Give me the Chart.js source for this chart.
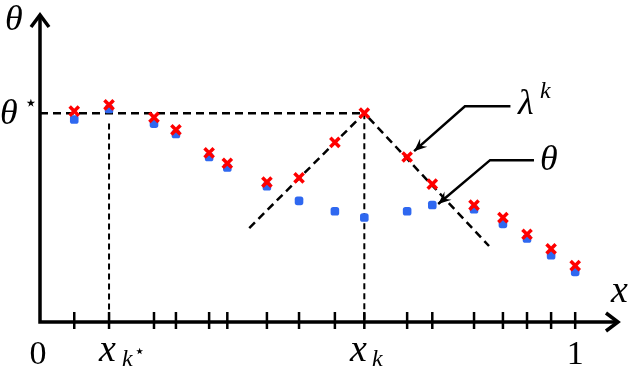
<!DOCTYPE html>
<html>
<head>
<meta charset="utf-8">
<script src="https://cdn.jsdelivr.net/npm/chart.js@4"></script>
<style>
  body { margin: 0; background: #fff; }
  canvas { display: block; }
</style>
</head>
<body>
<canvas id="plot" width="640" height="368"></canvas>
<script>
// sample positions on [0,1]
var xs = [0.064, 0.129, 0.213, 0.254, 0.316, 0.350, 0.424, 0.484, 0.551,
          0.606, 0.686, 0.733, 0.811, 0.865, 0.910, 0.955, 1.0];
// red crosses (lambda^k)
var lambdaVals = [1.01, 1.04, 0.98, 0.92, 0.81, 0.76, 0.67, 0.69, 0.86,
                  1.00, 0.79, 0.66, 0.56, 0.50, 0.42, 0.35, 0.27];
// blue dots (theta)
var thetaVals = [0.97, 1.02, 0.95, 0.90, 0.79, 0.74, 0.65, 0.58, 0.53,
                 0.50, 0.53, 0.56, 0.54, 0.47, 0.40, 0.32, 0.24];
var thetaStar = 1.0;
var kStar = 1, k = 9;
// the two dashed slopes through x_k
var vLeft = [0.391, 0.450], vRight = [0.839, 0.364];

var red = '#ff0000', blue = '#2f68f0';
var serif = '"Times New Roman", Times, "Liberation Serif", "Noto Serif", "DejaVu Serif", serif';

function pts(a, b) { return a.map(function (x, i) { return {x: x, y: b[i]}; }); }

var dashStyle = {type: 'line', borderColor: '#000', borderWidth: 2.5, borderDash: [8, 5],
                 pointRadius: 0, fill: false, tension: 0, order: 5};

var axesPlugin = {
  id: 'axesPlugin',
  afterDraw: function (c) {
    var ctx = c.ctx, sx = c.scales.x, sy = c.scales.y;
    var X = function (v) { return sx.getPixelForValue(v); };
    var Y = function (v) { return sy.getPixelForValue(v); };
    var x0 = X(0), y0 = Y(0), top = c.chartArea.top, right = c.chartArea.right;
    ctx.save();
    ctx.strokeStyle = '#000';
    ctx.fillStyle = '#000';
    ctx.lineCap = 'butt';
    // axes
    ctx.lineWidth = 3.5;
    ctx.beginPath();
    ctx.moveTo(x0, y0); ctx.lineTo(right - 2, y0);
    ctx.moveTo(x0, y0 + 1.7); ctx.lineTo(x0, top + 2);
    ctx.stroke();
    ctx.lineJoin = 'miter';
    ctx.beginPath();
    ctx.moveTo(right - 12, y0 - 9); ctx.lineTo(right, y0); ctx.lineTo(right - 12, y0 + 9);
    ctx.moveTo(x0 - 9, top + 12); ctx.lineTo(x0, top); ctx.lineTo(x0 + 9, top + 12);
    ctx.stroke();
    // ticks
    ctx.lineWidth = 2.5;
    ctx.beginPath();
    xs.forEach(function (v) { ctx.moveTo(X(v), y0 - 10); ctx.lineTo(X(v), y0 + 7); });
    ctx.stroke();
    // pointer arrows
    function pointer(p) {
      ctx.lineWidth = 2.5;
      ctx.beginPath();
      ctx.moveTo(X(p[0][0]), Y(p[0][1]));
      for (var i = 1; i < p.length; i++) ctx.lineTo(X(p[i][0]), Y(p[i][1]));
      ctx.stroke();
      var ex = X(p[p.length - 1][0]), ey = Y(p[p.length - 1][1]);
      var px = X(p[p.length - 2][0]), py = Y(p[p.length - 2][1]);
      var a = Math.atan2(ey - py, ex - px);
      ctx.beginPath();
      ctx.moveTo(ex, ey);
      ctx.lineTo(ex - 14 * Math.cos(a - 0.4), ey - 14 * Math.sin(a - 0.4));
      ctx.lineTo(ex - 8 * Math.cos(a), ey - 8 * Math.sin(a));
      ctx.lineTo(ex - 14 * Math.cos(a + 0.4), ey - 14 * Math.sin(a + 0.4));
      ctx.closePath();
      ctx.fill();
    }
    pointer([[0.879, 1.033], [0.794, 1.033], [0.699, 0.818]]);
    pointer([[0.923, 0.775], [0.841, 0.775], [0.744, 0.565]]);
    // labels
    function txt(s, x, y, size, italic) {
      ctx.font = (italic ? 'italic ' : '') + size + 'px ' + serif;
      ctx.fillText(s, x, y);
    }
    ctx.textBaseline = 'alphabetic';
    ctx.textAlign = 'left';
    txt('θ', 5, 30, 36, true);
    txt('θ', 0, 124, 36, true);
    txt('⋆', 24, 110, 22, false);
    txt('λ', 518, 114, 36, true);
    txt('k', 540, 98, 24, true);
    txt('θ', 540, 170, 36, true);
    txt('x', 611, 302, 38, true);
    txt('x', 99, 361, 38, true);
    txt('k', 122, 366, 24, true);
    txt('⋆', 134, 357, 18, false);
    txt('x', 350, 361, 38, true);
    txt('k', 372, 366, 24, true);
    ctx.textAlign = 'center';
    txt('0', 38, 364, 34, false);
    txt('1', X(1), 364, 34, false);
    ctx.restore();
  }
};

new Chart(document.getElementById('plot'), {
  type: 'scatter',
  data: {
    datasets: [
      {label: 'lambda', data: pts(xs, lambdaVals), pointStyle: 'crossRot', radius: 6.5,
       borderColor: red, borderWidth: 3.5, order: 0},
      {label: 'theta', data: pts(xs, thetaVals), pointStyle: 'rectRounded', radius: 5,
       backgroundColor: blue, borderColor: blue, borderWidth: 0, order: 1},
      Object.assign({data: [{x: 0, y: thetaStar}, {x: xs[k], y: thetaStar}]}, dashStyle),
      Object.assign({data: [{x: xs[kStar], y: thetaVals[kStar] - 0.07}, {x: xs[kStar], y: 0}]}, dashStyle, {borderDash: [6, 4], borderWidth: 2}),
      Object.assign({data: [{x: xs[k], y: thetaStar}, {x: xs[k], y: 0}]}, dashStyle, {borderDash: [6, 4], borderWidth: 2}),
      Object.assign({data: [{x: vLeft[0], y: vLeft[1]}, {x: xs[k], y: thetaStar}, {x: vRight[0], y: vRight[1]}]}, dashStyle)
    ]
  },
  options: {
    responsive: false,
    animation: false,
    layout: {padding: {left: 40, right: 22, top: 15, bottom: 46}},
    plugins: {legend: {display: false}, tooltip: {enabled: false}},
    scales: {
      x: {type: 'linear', min: 0, max: 1.08, display: false},
      y: {type: 'linear', min: 0, max: 1.47, display: false}
    }
  },
  plugins: [axesPlugin]
});
</script>
</body>
</html>
